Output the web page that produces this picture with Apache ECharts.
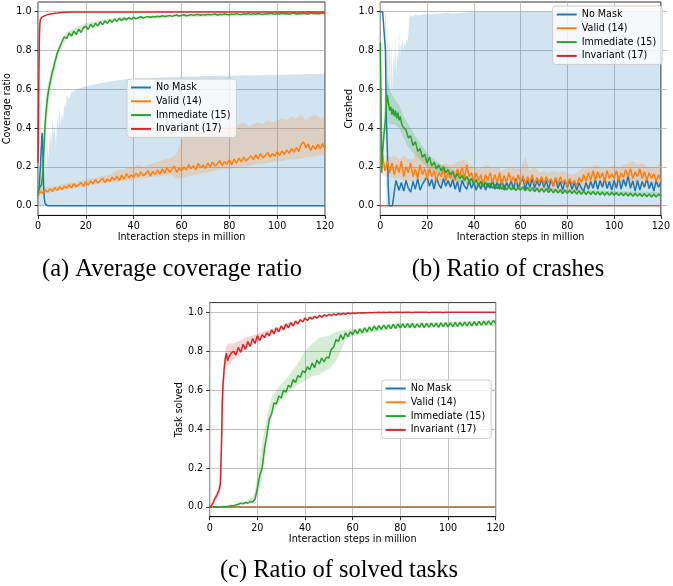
<!DOCTYPE html>
<html><head><meta charset="utf-8">
<script src="https://cdn.jsdelivr.net/npm/echarts@6.0.0/dist/echarts.min.js"></script>
<style>html,body{margin:0;padding:0;background:#fff}#c{width:673px;height:586px}</style>
</head><body><div id="c"></div><script>
// ---------- DATA ----------
const seriesNames = ['No Mask', 'Valid (14)', 'Immediate (15)', 'Invariant (17)'];
const xTicks = [0, 20, 40, 60, 80, 100, 120];
const yTicks = [0.0, 0.2, 0.4, 0.6, 0.8, 1.0];
const captions = ['(a) Average coverage ratio', '(b) Ratio of crashes', '(c) Ratio of solved tasks'];
const yNames = ['Coverage ratio', 'Crashed', 'Task solved'];
const xName = 'Interaction steps in million';

const steps = [0,1,2,3,4,5,6,7,8,9,10,11,12,13,14,15,16,17,18,19,20,21,22,23,24,25,26,27,28,29,30,31,32,33,34,35,36,37,38,39,40,41,42,43,44,45,46,47,48,49,50,51,52,53,54,55,56,57,58,59,60,61,62,63,64,65,66,67,68,69,70,71,72,73,74,75,76,77,78,79,80,81,82,83,84,85,86,87,88,89,90,91,92,93,94,95,96,97,98,99,100,101,102,103,104,105,106,107,108,109,110,111,112,113,114,115,116,117,118,119,120];
const steps2 = [0,2,4,6,8,10,12,14,16,18,20,22,24,26,28,30,32,34,36,38,40,42,44,46,48,50,52,54,56,58,60,62,64,66,68,70,72,74,76,78,80,82,84,86,88,90,92,94,96,98,100,102,104,106,108,110,112,114,116,118,120];
const ends = [0, 120];
const zeros = [0, 0];

// (a) coverage ratio
const noMaskA_x = [0,0.5,1,1.3,1.6,1.8,2.0,2.3,2.6,3.0,3.5,4,120];
const noMaskA = [0.05,0.1,0.2,0.28,0.36,0.375,0.3,0.12,0.04,0.01,0.002,0,0];
const noMaskA_hiX = [0,1,1.5,2,2.5,3,3.5,4,4.5,5,5.5,6,6.5,7,7.5,8,8.5,9,9.5,10,10.5,11,11.5,12,13,14,15,16,18,20,22,25,28,30,33,36,40,45,50,55,60,70,80,90,100,110,120];
const noMaskA_hi = [0.06,0.25,0.38,0.38,0.22,0.3,0.18,0.34,0.24,0.4,0.3,0.45,0.36,0.42,0.3,0.47,0.4,0.5,0.42,0.48,0.44,0.53,0.5,0.57,0.55,0.585,0.59,0.6,0.608,0.615,0.62,0.628,0.635,0.64,0.645,0.65,0.655,0.658,0.66,0.662,0.665,0.668,0.67,0.672,0.675,0.677,0.68];

const validA = [0.055,0.072,0.064,0.081,0.07,0.088,0.074,0.093,0.079,0.097,
0.083,0.101,0.09,0.108,0.092,0.114,0.098,0.107,0.12,0.1,
0.124,0.106,0.128,0.113,0.134,0.117,0.129,0.142,0.12,0.138,
0.125,0.147,0.132,0.152,0.13,0.158,0.138,0.165,0.143,0.16,
0.147,0.168,0.15,0.174,0.155,0.165,0.18,0.152,0.176,0.161,
0.185,0.163,0.19,0.168,0.196,0.172,0.188,0.205,0.171,0.195,
0.178,0.2,0.184,0.212,0.19,0.206,0.185,0.218,0.195,0.21,
0.192,0.22,0.2,0.226,0.205,0.215,0.232,0.207,0.228,0.214,
0.236,0.212,0.24,0.22,0.245,0.226,0.25,0.23,0.243,0.258,
0.236,0.262,0.242,0.268,0.246,0.258,0.275,0.25,0.27,0.255,
0.278,0.258,0.282,0.265,0.288,0.27,0.295,0.276,0.3,0.28,
0.315,0.33,0.298,0.318,0.285,0.31,0.29,0.318,0.292,0.32,
0.29];
const validA_hi = [0.07,0.09,0.095,0.1,0.1,0.11,0.115,0.12,0.12,0.13,
0.135,0.14,0.145,0.15,0.155,0.16,0.175,0.185,0.19,0.2,
0.2,0.21,0.2,0.21,0.22,0.225,0.235,0.24,0.25,0.27,
0.34,0.35,0.36,0.37,0.38,0.38,0.39,0.4,0.395,0.41,
0.42,0.41,0.42,0.43,0.41,0.42,0.43,0.42,0.44,0.43,
0.44,0.45,0.44,0.46,0.45,0.47,0.44,0.46,0.47,0.45,0.46];
const validA_lo = [0.05,0.06,0.065,0.07,0.075,0.08,0.085,0.09,0.095,0.1,
0.1,0.105,0.11,0.115,0.115,0.12,0.12,0.125,0.13,0.13,
0.135,0.14,0.14,0.145,0.15,0.15,0.155,0.155,0.16,0.14,
0.14,0.15,0.155,0.16,0.165,0.17,0.175,0.18,0.185,0.19,
0.19,0.195,0.2,0.2,0.205,0.21,0.215,0.215,0.22,0.225,
0.23,0.23,0.235,0.24,0.24,0.245,0.25,0.25,0.255,0.26,0.26];

const immediateA_earlyX = [0,0.5,1,1.5,2,2.5,3,3.5,4,4.5,5,5.5,6,6.5,7,7.5,8,8.5,9,9.5,10];
const immediateA_early = [0.07,0.09,0.08,0.11,0.16,0.3,0.43,0.5,0.56,0.6,0.63,0.66,0.69,0.71,0.74,0.76,0.785,0.8,0.815,0.83,0.845];
const immediateA_late = [0.87,0.862,0.89,0.874,0.9,0.882,0.91,0.893,0.918,
0.925,0.908,0.935,0.92,0.94,0.926,0.948,0.932,0.952,0.94,
0.958,0.945,0.962,0.95,0.966,0.953,0.968,0.958,0.97,0.96,
0.971,0.963,0.969,0.974,0.967,0.972,0.976,0.97,0.975,0.973,
0.977,0.974,0.979,0.975,0.978,0.981,0.976,0.98,0.983,0.978,
0.981,0.984,0.979,0.982,0.985,0.981,0.984,0.987,0.982,0.985,
0.983,0.987,0.984,0.986,0.988,0.983,0.987,0.985,0.989,0.986,
0.984,0.988,0.986,0.99,0.987,0.985,0.989,0.987,0.991,0.986,
0.989,0.987,0.991,0.988,0.986,0.99,0.988,0.992,0.989,0.987,
0.99,0.988,0.992,0.989,0.991,0.987,0.99,0.993,0.988,0.991,
0.989,0.992,0.99,0.988,0.993,0.99,0.992,0.989,0.991,0.993,
0.99];
const immediateA_bandX = [0,1,2,2.5,3,3.5,4,5,6,7,8,9,10,12,14,16,18,20,25,30,40,60,80,100,120];
const immediateA_hi = [0.09,0.11,0.25,0.4,0.52,0.58,0.62,0.67,0.72,0.76,0.8,0.83,0.86,0.895,0.91,0.92,0.93,0.94,0.955,0.965,0.975,0.985,0.99,0.993,0.995];
const immediateA_lo = [0.05,0.06,0.1,0.18,0.3,0.4,0.48,0.57,0.64,0.7,0.75,0.79,0.82,0.86,0.875,0.89,0.9,0.915,0.935,0.95,0.962,0.972,0.977,0.98,0.982];

const invariantA_x = [0,0.2,0.4,0.6,0.8,1,1.3,1.6,2,2.5,3,4,5,6,7,8,9,10,12,15,20,30,40,50,60,70,80,90,100,110,120];
const invariantA = [0.22,0.45,0.7,0.88,0.94,0.96,0.97,0.972,0.975,0.977,0.98,0.985,0.988,0.99,0.992,0.993,0.995,0.996,0.997,0.998,0.998,0.998,0.999,0.998,0.999,0.999,0.998,0.999,0.999,0.999,0.999];

// (b) crashes
const noMaskB_earlyX = [0,1,1.8,2.2,2.6,3.0,3.4,3.8,4.5,5.2,5.9,6.3,6.7];
const noMaskB_early = [1,1,1,0.8,0.45,0.3,0.1,0,0,0,0,0.1,0.13];
const noMaskB_late = [0.14,0.08,0.12,
0.075,0.13,0.09,0.07,0.125,0.085,0.14,0.08,0.11,0.13,
0.15,0.1,0.135,0.085,0.145,0.11,0.09,0.14,0.1,0.13,
0.095,0.135,0.085,0.125,0.07,0.13,0.1,0.085,0.13,0.09,
0.12,0.08,0.115,0.085,0.125,0.08,0.115,0.09,0.13,0.085,
0.12,0.085,0.135,0.08,0.12,0.095,0.13,0.085,0.14,0.09,
0.125,0.14,0.085,0.13,0.095,0.14,0.09,0.13,0.1,0.135,
0.095,0.13,0.085,0.135,0.1,0.14,0.09,0.125,0.08,0.13,
0.095,0.13,0.085,0.12,0.08,0.118,0.09,0.075,0.12,0.085,
0.125,0.09,0.135,0.085,0.13,0.095,0.14,0.088,0.125,0.08,
0.13,0.09,0.15,0.085,0.135,0.1,0.155,0.09,0.128,0.075,
0.13,0.08,0.125,0.095,0.14,0.088,0.122,0.075,0.13,0.095,
0.12];
const noMaskB_hiX = [0,2,2.4,2.8,3.2,3.6,4,4.4,4.8,5.2,5.6,6,6.4,6.8,7.2,7.6,8,8.4,8.8,9.2,9.6,10,10.4,10.8,11.2,11.6,12,12.4,13,14,15,16,18,20,22,25,28,31,35,40,45,50,60,70,80,90,100,110,120];
const noMaskB_hi = [1,1,0.98,0.72,0.95,0.62,0.9,0.55,0.84,0.6,0.78,0.7,0.88,0.66,0.8,0.74,0.9,0.76,0.84,0.82,0.86,0.8,0.85,0.82,0.86,0.84,0.88,0.97,0.98,0.975,0.985,0.98,0.985,0.99,0.985,0.99,0.995,0.99,0.995,0.998,1,1,1,1,1,1,1,1,1];
const noMaskB_loX = [0,2,2.6,120];
const noMaskB_lo = [1,1,0,0];

const validB = [0.22,0.26,0.18,0.23,0.17,0.22,0.16,0.21,0.17,0.23,
0.15,0.2,0.17,0.22,0.15,0.19,0.14,0.21,0.16,0.19,
0.14,0.19,0.15,0.18,0.13,0.17,0.15,0.19,0.13,0.17,
0.14,0.18,0.13,0.19,0.15,0.2,0.14,0.21,0.15,0.17,
0.12,0.17,0.13,0.16,0.11,0.16,0.13,0.17,0.12,0.16,
0.12,0.17,0.11,0.155,0.12,0.17,0.125,0.15,0.11,0.16,
0.12,0.155,0.11,0.15,0.12,0.16,0.11,0.145,0.12,0.15,
0.11,0.15,0.12,0.14,0.1,0.145,0.11,0.15,0.115,0.135,
0.1,0.14,0.11,0.13,0.1,0.145,0.12,0.16,0.125,0.17,
0.13,0.18,0.13,0.175,0.14,0.17,0.125,0.18,0.14,0.165,
0.14,0.18,0.13,0.17,0.145,0.185,0.15,0.19,0.14,0.175,
0.15,0.19,0.14,0.175,0.13,0.17,0.14,0.165,0.125,0.16,
0.13];
const validB_hi = [0.26,0.26,0.25,0.26,0.24,0.26,0.24,0.24,0.3,0.26,
0.23,0.22,0.22,0.21,0.22,0.21,0.22,0.23,0.24,0.21,
0.2,0.19,0.2,0.21,0.19,0.2,0.18,0.19,0.2,0.19,
0.19,0.25,0.18,0.2,0.17,0.18,0.17,0.18,0.17,0.18,
0.17,0.16,0.17,0.19,0.2,0.2,0.21,0.2,0.19,0.2,
0.21,0.2,0.21,0.22,0.23,0.21,0.22,0.2,0.2,0.2,0.23];
const validB_lo = [0.17,0.15,0.15,0.14,0.14,0.13,0.13,0.12,0.13,0.12,
0.12,0.11,0.11,0.11,0.11,0.1,0.11,0.11,0.12,0.1,
0.1,0.09,0.09,0.1,0.09,0.09,0.08,0.09,0.09,0.08,
0.09,0.08,0.08,0.09,0.08,0.08,0.08,0.08,0.07,0.08,
0.07,0.07,0.08,0.08,0.09,0.09,0.1,0.1,0.1,0.09,
0.1,0.1,0.1,0.11,0.11,0.1,0.1,0.1,0.09,0.1,0.09];

const immediateB_earlyX = [0,0.3,0.6,1,1.5,2,2.5,3,3.5,4,4.5,5,5.5,6,6.5,7,7.5,8,8.5,9,9.5,10];
const immediateB_early = [0.84,0.55,0.17,0.28,0.36,0.42,0.5,0.57,0.53,0.49,0.51,0.47,0.5,0.46,0.49,0.45,0.48,0.44,0.46,0.43,0.41,0.4];
const immediateB_late = [0.39,0.35,0.36,0.31,0.33,0.28,0.295,0.25,0.265,
0.22,0.25,0.205,0.225,0.19,0.21,0.18,0.2,0.17,0.185,
0.16,0.175,0.145,0.165,0.14,0.155,0.13,0.15,0.125,0.14,
0.11,0.135,0.105,0.125,0.1,0.12,0.095,0.115,0.09,0.11,
0.088,0.11,0.085,0.105,0.08,0.1,0.082,0.098,0.078,0.095,
0.08,0.097,0.076,0.094,0.074,0.092,0.072,0.09,0.07,0.088,
0.07,0.088,0.068,0.086,0.066,0.084,0.065,0.082,0.063,0.08,
0.064,0.08,0.062,0.078,0.06,0.077,0.059,0.075,0.058,0.074,
0.058,0.073,0.056,0.072,0.055,0.071,0.054,0.07,0.053,0.069,
0.053,0.068,0.052,0.067,0.051,0.066,0.05,0.065,0.049,0.064,
0.048,0.063,0.047,0.062,0.046,0.061,0.045,0.06,0.044,0.06,
0.05];
const immediateB_bandX = [0,1,2,3,4,6,8,10,12,15,20,25,30,40,50,60,80,100,120];
const immediateB_hi = [0.84,0.35,0.6,0.65,0.6,0.55,0.52,0.46,0.42,0.36,0.27,0.22,0.19,0.14,0.12,0.1,0.085,0.075,0.07];
const immediateB_lo = [0.84,0.15,0.35,0.45,0.42,0.42,0.4,0.35,0.3,0.26,0.2,0.17,0.14,0.1,0.085,0.08,0.065,0.055,0.045];

// (c) solved tasks
const immediateC = [0,0,0,0,0,0.001,0.002,0.001,0.004,0.007,
0.005,0.011,0.014,0.02,0.016,0.024,0.019,0.028,0.026,0.04,
0.095,0.16,0.2,0.3,0.37,0.45,0.48,0.535,0.53,0.57,
0.56,0.6,0.59,0.625,0.615,0.655,0.64,0.675,0.665,0.7,
0.69,0.72,0.705,0.74,0.715,0.755,0.735,0.765,0.745,0.77,
0.765,0.81,0.82,0.86,0.85,0.885,0.86,0.895,0.875,0.9,
0.885,0.91,0.89,0.915,0.895,0.92,0.9,0.925,0.905,0.93,
0.91,0.932,0.912,0.935,0.915,0.936,0.916,0.938,0.918,0.94,
0.92,0.94,0.921,0.942,0.922,0.943,0.92,0.941,0.923,0.944,
0.922,0.943,0.924,0.945,0.925,0.944,0.923,0.946,0.926,0.947,
0.925,0.946,0.927,0.948,0.928,0.949,0.929,0.95,0.93,0.951,
0.93,0.952,0.932,0.953,0.934,0.955,0.935,0.956,0.936,0.958,
0.945];
const immediateC_bandX = [0,10,15,18,19,20,21,22,23,24,25,26,28,30,33,36,40,43,46,50,53,55,57,60,80,100,120];
const immediateC_hi = [0,0.01,0.03,0.05,0.08,0.16,0.24,0.32,0.4,0.46,0.52,0.56,0.6,0.63,0.67,0.72,0.8,0.84,0.87,0.88,0.9,0.905,0.91,0.915,0.945,0.95,0.96];
const immediateC_lo = [0,0.002,0.015,0.02,0.03,0.06,0.1,0.16,0.24,0.33,0.42,0.47,0.52,0.55,0.59,0.62,0.65,0.67,0.68,0.71,0.75,0.8,0.86,0.88,0.92,0.925,0.93];

const invariantC_earlyX = [0,1,2,3,3.5,4,4.5,5,5.3,5.6,6,6.5,7,7.5,8,8.5,9,9.5,10];
const invariantC_early = [0,0.01,0.04,0.06,0.05,0.09,0.12,0.35,0.55,0.63,0.7,0.76,0.79,0.75,0.77,0.76,0.79,0.78,0.8];
const invariantC_late = [0.78,0.82,0.795,0.835,0.81,0.85,0.825,0.865,0.84,
0.88,0.855,0.885,0.87,0.895,0.88,0.91,0.89,0.92,0.9,
0.93,0.91,0.94,0.92,0.948,0.93,0.955,0.94,0.962,0.95,
0.97,0.958,0.975,0.965,0.98,0.97,0.984,0.975,0.988,0.98,
0.99,0.983,0.992,0.986,0.994,0.989,0.995,0.99,0.997,0.993,
0.996,0.994,0.997,0.996,0.998,0.997,0.998,0.999,0.998,0.999,
0.999,1,0.999,1,0.999,1,1,0.999,1,1,
1,0.999,1,1,1,0.999,1,1,1,1,
1,1,0.999,1,1,1,1,1,0.999,1,
1,1,1,1,1,1,1,1,1,1,
1,1,1,1,1,1,1,1,1,1,
1];
const invariantC_bandX = [0,2,3,4,4.5,5,5.5,6,7,8,10,12,15,20,25,30,40,50,60,120];
const invariantC_hi = [0,0.05,0.08,0.12,0.25,0.55,0.68,0.76,0.83,0.84,0.84,0.85,0.87,0.89,0.91,0.93,0.975,0.99,1,1];
const invariantC_lo = [0,0.02,0.04,0.06,0.08,0.15,0.45,0.62,0.73,0.73,0.76,0.78,0.81,0.85,0.88,0.91,0.96,0.98,0.995,0.998];

// ---------- STYLE / LAYOUT ----------
const COL = ['#1f77b4', '#ff7f0e', '#2ca02c', '#d62728'];
const FONT = 'DejaVu Sans';
const FS = 9.6;
const panels = [
  {left: 38, top: 2, width: 287, height: 213.4, legend: {left: 127, top: 79}, cap: {x: 172, y: 270}},
  {left: 380.3, top: 2, width: 286.4, height: 213.4, legend: {left: 552.7, top: 6}, cap: {x: 508, y: 270}},
  {left: 209.7, top: 302.6, width: 286, height: 214.1, legend: {left: 381.7, top: 380}, cap: {x: 339, y: 571}}
];

function pairs(xs, ys) { const n = Math.min(xs.length, ys.length); const out = []; for (let i = 0; i < n; i++) out.push([xs[i], ys[i]]); return out; }

const grids = [], xAxes = [], yAxes = [];
panels.forEach((p, k) => {
  const inTop = p.top + p.height * 0.05 / 1.1, inH = p.height / 1.1;
  grids.push({left: p.left, top: p.top, width: p.width, height: p.height, show: true, borderColor: '#000', borderWidth: 0.8, backgroundColor: 'transparent'});
  grids.push({left: p.left, top: inTop, width: p.width, height: inH, show: false});
  xAxes.push({gridIndex: 2*k, type: 'value', min: xTicks[0], max: xTicks[xTicks.length-1], interval: xTicks[1]-xTicks[0],
    axisLine: {show: true, onZero: false, lineStyle: {color: '#000', width: 0.8}},
    axisTick: {show: true, length: 3.5, lineStyle: {color: '#000', width: 0.8}},
    axisLabel: {margin: 6.5, fontFamily: FONT, fontSize: FS, color: '#000'},
    splitLine: {show: true, lineStyle: {color: '#b0b0b0', width: 0.8}},
    name: xName, nameLocation: 'middle', nameGap: 17, nameTextStyle: {fontFamily: FONT, fontSize: FS, color: '#000'}});
  xAxes.push({gridIndex: 2*k+1, type: 'value', min: xTicks[0], max: xTicks[xTicks.length-1], show: false});
  yAxes.push({gridIndex: 2*k, type: 'value', min: -0.05, max: 1.05, axisLine: {show: false}, axisTick: {show: false}, axisLabel: {show: false}, splitLine: {show: false}});
  yAxes.push({gridIndex: 2*k+1, type: 'value', min: yTicks[0], max: yTicks[yTicks.length-1], interval: yTicks[1]-yTicks[0],
    axisLine: {show: false, onZero: false},
    axisTick: {show: true, length: 3.5, lineStyle: {color: '#000', width: 0.8}},
    axisLabel: {margin: 6.5, fontFamily: FONT, fontSize: FS, color: '#000', formatter: v => v.toFixed(1)},
    splitLine: {show: true, lineStyle: {color: '#b0b0b0', width: 0.8}},
    name: yNames[k], nameLocation: 'middle', nameGap: 24, nameRotate: 90, nameTextStyle: {fontFamily: FONT, fontSize: FS, color: '#000'}});
});

function line(k, si, xs, ys, extra) {
  return Object.assign({type: 'line', name: seriesNames[si], xAxisIndex: 2*k, yAxisIndex: 2*k, data: pairs(xs, ys),
    symbol: 'none', showSymbol: false, z: 3, animation: false, silent: true,
    lineStyle: {width: 1.5, color: COL[si]}, itemStyle: {color: COL[si]}}, extra || {});
}
function band(k, si, hx, hi, lx, lo) {
  return {type: 'custom', xAxisIndex: 2*k, yAxisIndex: 2*k, z: 1, silent: true, animation: false, data: [[0, 0]],
    renderItem: function (params, api) {
      const pts = [];
      const nh = Math.min(hx.length, hi.length), nl = Math.min(lx.length, lo.length);
      for (let i = 0; i < nh; i++) pts.push(api.coord([hx[i], hi[i]]));
      for (let i = nl - 1; i >= 0; i--) pts.push(api.coord([lx[i], lo[i]]));
      return {type: 'polygon', shape: {points: pts}, style: {fill: COL[si], opacity: 0.2}};
    }};
}

const series = [
  // (a)
  band(0, 0, noMaskA_hiX, noMaskA_hi, ends, zeros),
  band(0, 1, steps2, validA_hi, steps2, validA_lo),
  band(0, 2, immediateA_bandX, immediateA_hi, immediateA_bandX, immediateA_lo),
  line(0, 0, noMaskA_x, noMaskA),
  line(0, 1, steps, validA),
  line(0, 2, immediateA_earlyX.concat(steps.slice(11)), immediateA_early.concat(immediateA_late)),
  line(0, 3, invariantA_x, invariantA),
  // (b)
  band(1, 0, noMaskB_hiX, noMaskB_hi, noMaskB_loX, noMaskB_lo),
  band(1, 1, steps2, validB_hi, steps2, validB_lo),
  band(1, 2, immediateB_bandX, immediateB_hi, immediateB_bandX, immediateB_lo),
  line(1, 0, noMaskB_earlyX.concat(steps.slice(7)), noMaskB_early.concat(noMaskB_late)),
  line(1, 1, steps, validB),
  line(1, 2, immediateB_earlyX.concat(steps.slice(11)), immediateB_early.concat(immediateB_late)),
  line(1, 3, ends, zeros, {lineStyle: {width: 1.5, color: COL[3], opacity: 0.7}}),
  // (c)
  band(2, 2, immediateC_bandX, immediateC_hi, immediateC_bandX, immediateC_lo),
  band(2, 3, invariantC_bandX, invariantC_hi, invariantC_bandX, invariantC_lo),
  line(2, 0, ends, zeros),
  line(2, 1, ends, zeros, {lineStyle: {width: 1.5, color: COL[1], opacity: 0.8}}),
  line(2, 2, steps, immediateC),
  line(2, 3, invariantC_earlyX.concat(steps.slice(11)), invariantC_early.concat(invariantC_late))
];

const legends = panels.map(p => ({
  orient: 'vertical', left: p.legend.left, top: p.legend.top, itemWidth: 20, itemHeight: 2, icon: 'rect', itemGap: 2.8,
  padding: [3, 6, 3, 4], backgroundColor: 'rgba(255,255,255,0.8)', borderColor: '#cccccc', borderWidth: 1, borderRadius: 3,
  textStyle: {fontFamily: FONT, fontSize: FS, color: '#000', lineHeight: 11},
  data: seriesNames, selectedMode: false, z: 10
}));

const graphics = panels.map((p, k) => ({type: 'text', x: p.cap.x, y: p.cap.y, z: 10,
  style: {text: captions[k], fontFamily: 'Liberation Serif', fontSize: 24.5, fill: '#000', align: 'center', verticalAlign: 'middle'}}));

const chart = echarts.init(document.getElementById('c'), null, {renderer: 'canvas'});
chart.setOption({animation: false, color: COL, grid: grids, xAxis: xAxes, yAxis: yAxes, series: series, legend: legends, graphic: graphics});
</script></body></html>
